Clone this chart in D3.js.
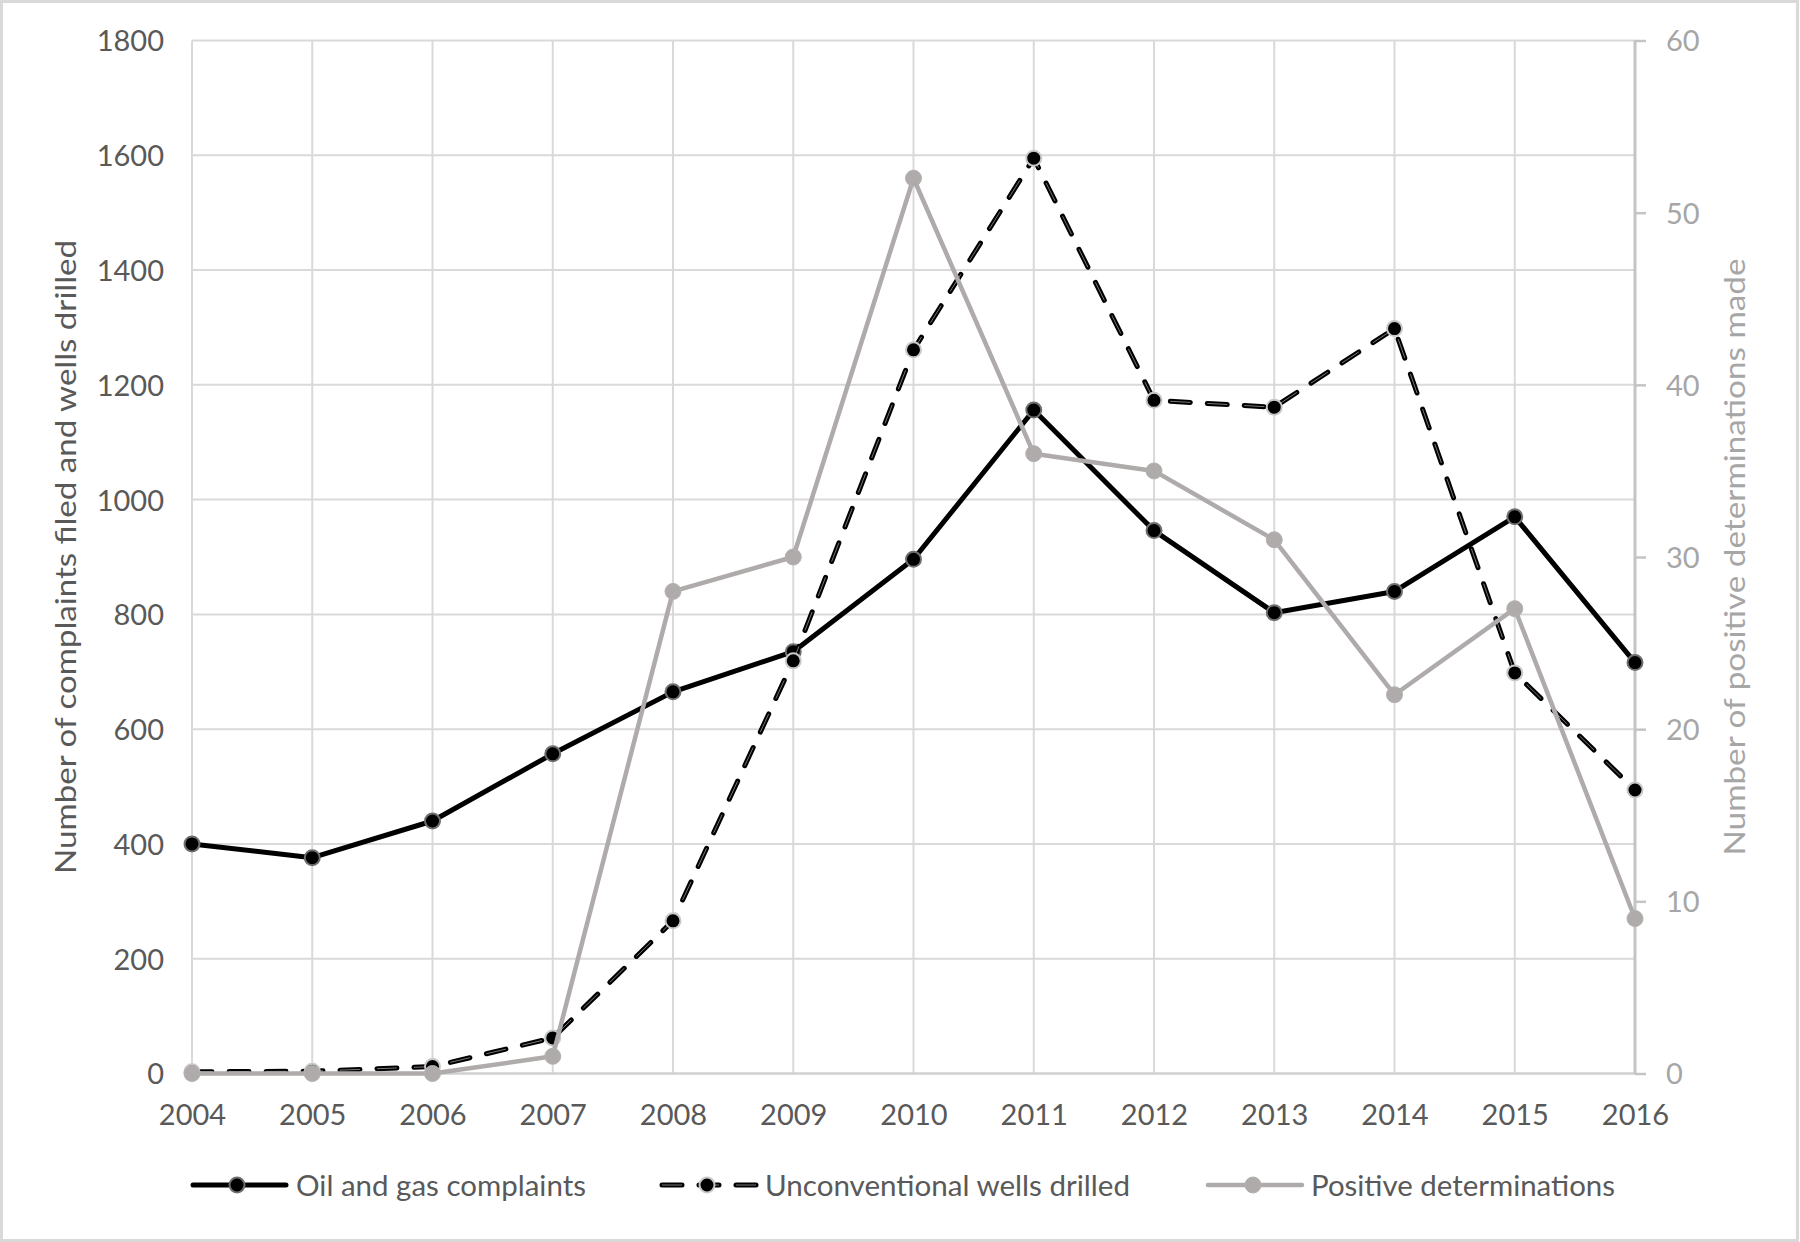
<!DOCTYPE html>
<html>
<head>
<meta charset="utf-8">
<script src="https://cdn.jsdelivr.net/npm/d3@7/dist/d3.min.js"></script>
<style>
  html, body { margin: 0; padding: 0; background: #ffffff; }
  svg { display: block; }
  text { font-family: "Lato", "Open Sans", "Noto Sans", sans-serif; }
</style>
</head>
<body>
<svg id="chart" width="1800" height="1242"></svg>
<script>
// ---- data ----
const years = [2004, 2005, 2006, 2007, 2008, 2009, 2010, 2011, 2012, 2013, 2014, 2015, 2016];
const complaints = [400, 376, 440, 557, 665, 735, 896, 1156, 946, 803, 840, 970, 716];
const wells = [3, 4, 12, 62, 266, 719, 1261, 1595, 1173, 1161, 1298, 698, 494];
const positives = [0, 0, 0, 1, 28, 30, 52, 36, 35, 31, 22, 27, 9];
const leftTicks = [0, 200, 400, 600, 800, 1000, 1200, 1400, 1600, 1800];
const rightTicks = [0, 10, 20, 30, 40, 50, 60];
const seriesNames = ["Oil and gas complaints", "Unconventional wells drilled", "Positive determinations"];
const leftTitle = "Number of complaints filed and wells drilled";
const rightTitle = "Number of positive determinations made";

// ---- layout ----
const W = 1800, H = 1242;
const plot = { left: 192, right: 1635, top: 40.5, bottom: 1073.5 };
const darkText = "#595959", lightText = "#a6a6a6", grid = "#d9d9d9";
const grayLine = "#afabab";
const fs = 29;

const svg = d3.select("#chart");

svg.append("rect").attr("x", 1.5).attr("y", 1.5).attr("width", W - 4).attr("height", H - 3)
  .attr("fill", "#fff").attr("stroke", "#d9d9d9").attr("stroke-width", 3);

const x = d3.scaleLinear().domain([years[0], years[years.length - 1]]).range([plot.left, plot.right]);
const yL = d3.scaleLinear().domain([0, 1800]).range([plot.bottom, plot.top]);
const yR = d3.scaleLinear().domain([0, 60]).range([plot.bottom, plot.top]);

// gridlines
const g = svg.append("g");
g.selectAll("line.h").data(leftTicks.slice(1)).join("line")
  .attr("x1", plot.left).attr("x2", plot.right)
  .attr("y1", d => yL(d)).attr("y2", d => yL(d))
  .attr("stroke", grid).attr("stroke-width", 2);
g.selectAll("line.v").data(years.slice(0, -1)).join("line")
  .attr("x1", d => x(d)).attr("x2", d => x(d))
  .attr("y1", plot.top).attr("y2", plot.bottom)
  .attr("stroke", grid).attr("stroke-width", 2);

// bottom axis line
svg.append("line").attr("x1", plot.left).attr("x2", plot.right)
  .attr("y1", plot.bottom).attr("y2", plot.bottom)
  .attr("stroke", "#d0d0d0").attr("stroke-width", 2.5);

// right axis (line + outer ticks)
const rightAxis = d3.axisRight(yR).tickValues(rightTicks).tickSize(11).tickPadding(20).tickFormat(d3.format("d"));
const ra = svg.append("g").attr("transform", `translate(${plot.right},0)`).call(rightAxis);
ra.select(".domain").attr("stroke", "#c4c4c4").attr("stroke-width", 3).attr("d", `M0,${plot.top}V${plot.bottom}`);
ra.selectAll(".tick line").attr("stroke", "#c4c4c4").attr("stroke-width", 2.5);
ra.selectAll(".tick text").attr("fill", lightText).attr("font-size", fs)
  .attr("x", 31).attr("dy", "0.36em").style("font-family", "Lato, 'Open Sans', sans-serif");

// left axis labels
const leftAxis = d3.axisLeft(yL).tickValues(leftTicks).tickSize(0).tickPadding(28).tickFormat(d3.format("d"));
const la = svg.append("g").attr("transform", `translate(${plot.left},0)`).call(leftAxis);
la.select(".domain").remove();
la.selectAll(".tick text").attr("fill", darkText).attr("font-size", fs)
  .attr("dy", "0.36em").style("font-family", "Lato, 'Open Sans', sans-serif");

// bottom axis labels
const bottomAxis = d3.axisBottom(x).tickValues(years).tickSize(0).tickPadding(31).tickFormat(d3.format("d"));
const ba = svg.append("g").attr("transform", `translate(0,${plot.bottom})`).call(bottomAxis);
ba.select(".domain").remove();
ba.selectAll(".tick text").attr("fill", darkText).attr("font-size", fs)
  .style("font-family", "Lato, 'Open Sans', sans-serif");

// axis titles
svg.append("text").attr("transform", `translate(76,${(plot.top + plot.bottom) / 2}) rotate(-90)`)
  .attr("text-anchor", "middle").attr("fill", darkText).attr("font-size", fs)
  .attr("textLength", 634).attr("lengthAdjust", "spacingAndGlyphs").text(leftTitle);
svg.append("text").attr("transform", `translate(1745,${(plot.top + plot.bottom) / 2}) rotate(-90)`)
  .attr("text-anchor", "middle").attr("fill", lightText).attr("font-size", fs)
  .attr("textLength", 597).attr("lengthAdjust", "spacingAndGlyphs").text(rightTitle);

// ---- series ----
const dataC = years.map((yr, i) => [yr, complaints[i]]);
const dataW = years.map((yr, i) => [yr, wells[i]]);
const dataP = years.map((yr, i) => [yr, positives[i]]);

const lineL = d3.line().x(d => x(d[0])).y(d => yL(d[1]));
const lineR = d3.line().x(d => x(d[0])).y(d => yR(d[1]));

// complaints
svg.append("path").attr("d", lineL(dataC)).attr("fill", "none")
  .attr("stroke", "#000").attr("stroke-width", 5).attr("stroke-linejoin", "round");
svg.selectAll("circle.c").data(dataC).join("circle")
  .attr("cx", d => x(d[0])).attr("cy", d => yL(d[1])).attr("r", 7.5)
  .attr("fill", "#000").attr("stroke", "#6f6f6f").attr("stroke-width", 2);

// wells (dashed)
svg.append("path").attr("d", lineL(dataW)).attr("fill", "none")
  .attr("stroke", "#000").attr("stroke-width", 5).attr("stroke-dasharray", "20,17").attr("stroke-linecap", "round");
svg.append("path").attr("d", lineL(dataW)).attr("fill", "none")
  .attr("stroke", "#777").attr("stroke-width", 1).attr("stroke-dasharray", "20,17");
svg.selectAll("circle.w").data(dataW).join("circle")
  .attr("cx", d => x(d[0])).attr("cy", d => yL(d[1])).attr("r", 7.5)
  .attr("fill", "#000").attr("stroke", "#c8c8c8").attr("stroke-width", 2);

// positive determinations
svg.append("path").attr("d", lineR(dataP)).attr("fill", "none")
  .attr("stroke", grayLine).attr("stroke-width", 4.5).attr("stroke-linejoin", "round");
svg.selectAll("circle.p").data(dataP).join("circle")
  .attr("cx", d => x(d[0])).attr("cy", d => yR(d[1])).attr("r", 8)
  .attr("fill", grayLine).attr("stroke", "#b4b1b1").attr("stroke-width", 1);

// ---- legend ----
const legY = 1185;
const leg = svg.append("g");
// complaints
leg.append("line").attr("x1", 193).attr("x2", 286).attr("y1", legY).attr("y2", legY)
  .attr("stroke", "#000").attr("stroke-width", 5).attr("stroke-linecap", "round");
leg.append("circle").attr("cx", 237).attr("cy", legY).attr("r", 7.5)
  .attr("fill", "#000").attr("stroke", "#6f6f6f").attr("stroke-width", 2);
leg.append("text").attr("x", 296).attr("y", legY + 10.5).attr("fill", darkText).attr("font-size", fs)
  .attr("textLength", 290).attr("lengthAdjust", "spacingAndGlyphs").text(seriesNames[0]);
// wells
leg.append("line").attr("x1", 662).attr("x2", 756).attr("y1", legY).attr("y2", legY)
  .attr("stroke", "#000").attr("stroke-width", 5).attr("stroke-dasharray", "20,17").attr("stroke-linecap", "round");
leg.append("line").attr("x1", 662).attr("x2", 756).attr("y1", legY).attr("y2", legY)
  .attr("stroke", "#777").attr("stroke-width", 1).attr("stroke-dasharray", "20,17");
leg.append("circle").attr("cx", 707).attr("cy", legY).attr("r", 7.5)
  .attr("fill", "#000").attr("stroke", "#c8c8c8").attr("stroke-width", 2);
leg.append("text").attr("x", 765).attr("y", legY + 10.5).attr("fill", darkText).attr("font-size", fs)
  .attr("textLength", 365).attr("lengthAdjust", "spacingAndGlyphs").text(seriesNames[1]);
// positives
leg.append("line").attr("x1", 1208).attr("x2", 1302).attr("y1", legY).attr("y2", legY)
  .attr("stroke", grayLine).attr("stroke-width", 4.5).attr("stroke-linecap", "round");
leg.append("circle").attr("cx", 1253).attr("cy", legY).attr("r", 8)
  .attr("fill", grayLine).attr("stroke", "#b4b1b1").attr("stroke-width", 1);
leg.append("text").attr("x", 1311).attr("y", legY + 10.5).attr("fill", darkText).attr("font-size", fs)
  .attr("textLength", 304).attr("lengthAdjust", "spacingAndGlyphs").text(seriesNames[2]);
</script>
</body>
</html>
